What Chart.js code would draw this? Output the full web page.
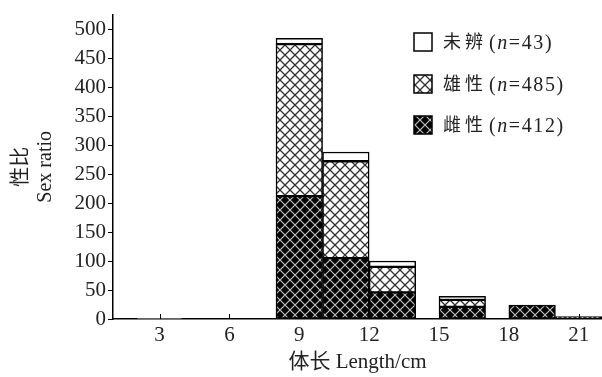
<!DOCTYPE html>
<html>
<head>
<meta charset="utf-8">
<script src="https://cdn.jsdelivr.net/npm/chart.js@4/dist/chart.umd.min.js"></script>
<style>
  html, body { margin: 0; padding: 0; background: #fff; }
  #wrap { width: 602px; height: 377px; position: relative; }
</style>
</head>
<body>
<div id="wrap"><canvas id="grafica"></canvas></div>
<script>
// datos (体长 bins de 2 cm)
const binCenters = [3, 9, 11, 13, 16, 19, 21];
const hembras = [0, 212, 105, 46, 21, 24, 4];    // 雌性 n=412
const machos = [0, 262, 167, 44, 12, 0, 0];      // 雄性 n=485
const sinDefinir = [1, 10, 16, 10, 6, 0, 0];     // 未辨 n=43
const xTicks = [3, 6, 9, 12, 15, 18, 21];
const yTicks = [0, 50, 100, 150, 200, 250, 300, 350, 400, 450, 500];
const leyenda = [
    { nombre: '未辨', n: '43' },
    { nombre: '雄性', n: '485' },
    { nombre: '雌性', n: '412' }
];

const serif = "'Liberation Serif', 'DejaVu Serif', serif";
const cjk = "'Noto Sans CJK SC', sans-serif";

// Patrones de rombos
function crearPatron(fondo, linea, grosor) {
    const c = document.createElement('canvas');
    c.width = 10; c.height = 10;
    const g = c.getContext('2d');
    g.fillStyle = fondo;
    g.fillRect(0, 0, 10, 10);
    g.strokeStyle = linea;
    g.lineWidth = grosor;
    g.beginPath();
    g.moveTo(0, 0); g.lineTo(10, 10);
    g.moveTo(10, 0); g.lineTo(0, 10);
    g.stroke();
    return g.createPattern(c, 'repeat');
}

const ctx = document.getElementById('grafica').getContext('2d');
const patronMacho = crearPatron('#ffffff', '#333333', 1.3);
const patronHembra = crearPatron('#000000', '#c0c0c0', 1.2);

function puntos(valores) {
    return binCenters.map((x, i) => ({ x: x, y: valores[i] }));
}

// Leyenda propia (n en cursiva)
const leyendaPlugin = {
    id: 'leyendaPropia',
    afterDraw(chart) {
        const c = chart.ctx;
        const fondos = ['#ffffff', patronMacho, patronHembra];
        const filas = [33, 75, 116];
        c.save();
        leyenda.forEach((item, i) => {
            const y = filas[i];
            c.fillStyle = fondos[i];
            c.fillRect(414, y, 18, 18);
            c.strokeStyle = '#000';
            c.lineWidth = 1.5;
            c.strokeRect(414, y, 18, 18);
            let x = 443;
            const base = y + 16;
            c.fillStyle = '#222';
            c.textBaseline = 'alphabetic';
            c.font = '18px ' + cjk;
            for (const ch of item.nombre) {
                c.fillText(ch, x, base - 1);
                x += 22;
            }
            x += 2;
            const partes = [['(', ''], ['n', 'italic '], ['=', ''], ...item.n.split('').map(d => [d, '']), [')', '']];
            partes.forEach(([txt, estilo]) => {
                c.font = estilo + '20px ' + serif;
                c.fillText(txt, x, base);
                x += c.measureText(txt).width + 1.6;
            });
        });
        c.restore();
    }
};

// Marcas del eje x hacia dentro
const marcasX = {
    id: 'marcasX',
    afterDraw(chart) {
        const sx = chart.scales.x;
        const c = chart.ctx;
        c.save();
        c.strokeStyle = '#000';
        c.lineWidth = 1;
        sx.ticks.forEach(t => {
            const px = Math.round(sx.getPixelForValue(t.value)) + 0.5;
            c.beginPath();
            c.moveTo(px, sx.top);
            c.lineTo(px, sx.top - 5);
            c.stroke();
        });
        c.restore();
    }
};

const estiloBarra = {
    borderColor: '#000',
    borderWidth: 1.5,
    borderSkipped: false,
    categoryPercentage: 1,
    barPercentage: 1
};

new Chart(ctx, {
    type: 'bar',
    data: {
        datasets: [
            Object.assign({ label: '雌性', data: puntos(hembras), backgroundColor: patronHembra }, estiloBarra),
            Object.assign({ label: '雄性', data: puntos(machos), backgroundColor: patronMacho }, estiloBarra),
            Object.assign({ label: '未辨', data: puntos(sinDefinir), backgroundColor: '#ffffff' }, estiloBarra)
        ]
    },
    options: {
        responsive: true,
        maintainAspectRatio: false,
        animation: false,
        layout: { padding: { top: 8, right: 0, left: 0, bottom: 0 } },
        plugins: {
            legend: { display: false },
            tooltip: { enabled: false }
        },
        scales: {
            x: {
                type: 'linear',
                stacked: true,
                offset: false,
                min: 1,
                max: 22,
                afterBuildTicks: s => { s.ticks = xTicks.map(v => ({ value: v })); },
                afterFit: s => { s.height = 58; },
                grid: { display: false, drawTicks: false, offset: false },
                border: { display: true, color: '#000', width: 1.5 },
                ticks: {
                    color: '#222',
                    font: { family: serif, size: 21 },
                    padding: 4,
                    maxRotation: 0
                },
                title: {
                    display: true,
                    text: '体长 Length/cm',
                    color: '#222',
                    font: { family: serif + ", " + cjk, size: 21 },
                    padding: { top: 0, bottom: 2 }
                }
            },
            y: {
                stacked: true,
                min: 0,
                max: 525,
                afterBuildTicks: s => { s.ticks = yTicks.map(v => ({ value: v })); },
                afterFit: s => { s.width = 113; },
                grid: {
                    drawOnChartArea: false,
                    drawTicks: true,
                    tickLength: 5,
                    color: '#000',
                    lineWidth: 1
                },
                border: { display: true, color: '#000', width: 1.5 },
                ticks: {
                    color: '#222',
                    font: { family: serif, size: 21 },
                    padding: 2
                },
                title: {
                    display: true,
                    text: ['性比', 'Sex ratio'],
                    color: '#222',
                    font: { family: serif + ", " + cjk, size: 20, lineHeight: 1.2 },
                    padding: { top: 10, bottom: 0 }
                }
            }
        }
    },
    plugins: [leyendaPlugin, marcasX]
});
</script>
</body>
</html>
